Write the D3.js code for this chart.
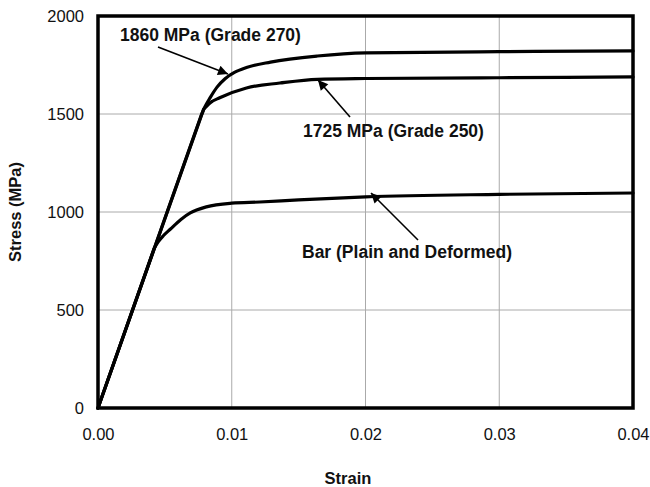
<html>
<head>
<meta charset="UTF-8">
<title>Stress-Strain</title>
<script src="https://d3js.org/d3.v7.min.js"></script>
<style>
html,body{margin:0;padding:0;background:#fff;}
text{font-family:"Liberation Sans",Arial,sans-serif;fill:#111;}
.grid line{stroke:#aaa;stroke-width:1;}
.curve{fill:none;stroke:#000;stroke-width:3.2;stroke-linejoin:round;stroke-linecap:round;}
.tick-label{font-size:16.5px;}
.note{font-size:17.5px;font-weight:bold;}
.title{font-size:16.5px;font-weight:bold;}
</style>
</head>
<body>
<div id="container"></div>
<script>
// data (first point after origin = end of elastic line)
const xTicks = [0, 0.01, 0.02, 0.03, 0.04];
const yTicks = [0, 500, 1000, 1500, 2000];

const strain1860 = [0, 0.0077, 0.008, 0.0084, 0.0089, 0.0095, 0.0102, 0.0111, 0.0129, 0.0164, 0.02, 0.03, 0.04];
const stress1860 = [0, 1490, 1537, 1585, 1637, 1680, 1712, 1737, 1765, 1796, 1812, 1818, 1822];

const strain1725 = [0, 0.0079, 0.0084, 0.0091, 0.0111, 0.0136, 0.0164, 0.02, 0.03, 0.04];
const stress1725 = [0, 1525, 1558, 1583, 1633, 1658, 1677, 1681, 1685, 1689];

const strainBar = [0, 0.0042, 0.0045, 0.0049, 0.0054, 0.0062, 0.0069, 0.0081, 0.01, 0.0121, 0.015, 0.02, 0.03, 0.04];
const stressBar = [0, 815, 848, 880, 912, 962, 995, 1026, 1045, 1051, 1062, 1077, 1090, 1097];

const margin = {top: 16, right: 17, bottom: 79, left: 98};
const W = 650, H = 487;
const width = W - margin.left - margin.right,
      height = H - margin.top - margin.bottom;

const x = d3.scaleLinear().domain([0, 0.04]).range([0, width]);
const y = d3.scaleLinear().domain([0, 2000]).range([height, 0]);

const svg = d3.select("#container").append("svg")
    .attr("width", W).attr("height", H);
const g = svg.append("g")
    .attr("transform", "translate(" + margin.left + "," + margin.top + ")");

// grid
const grid = g.append("g").attr("class", "grid");
grid.selectAll(".gx").data(xTicks.slice(1, -1)).enter().append("line")
    .attr("x1", d => x(d)).attr("x2", d => x(d))
    .attr("y1", 0).attr("y2", height);
grid.selectAll(".gy").data(yTicks.slice(1, -1)).enter().append("line")
    .attr("x1", 0).attr("x2", width)
    .attr("y1", d => y(d)).attr("y2", d => y(d));

const xAxis = g.append("g")
    .attr("transform", "translate(0," + height + ")")
    .call(d3.axisBottom(x).tickValues(xTicks).tickFormat(d3.format(".2f")).tickSize(0).tickPadding(20));
const yAxis = g.append("g")
    .call(d3.axisLeft(y).tickValues(yTicks).tickFormat(d3.format("d")).tickSize(0).tickPadding(14));
[xAxis, yAxis].forEach(a => {
  a.select(".domain").remove();
  a.selectAll("text").attr("class", "tick-label")
    .style("font-family", '"Liberation Sans",Arial,sans-serif').attr("fill", "#111");
});

// curves: straight elastic part, then smooth yield part
const smooth = d3.line().x(d => x(d[0])).y(d => y(d[1])).curve(d3.curveMonotoneX);
[[strain1860, stress1860], [strain1725, stress1725], [strainBar, stressBar]].forEach(s => {
  const pts = d3.zip(s[0], s[1]);
  const p = "M" + x(pts[0][0]) + "," + y(pts[0][1]) + "L" + smooth(pts.slice(1)).slice(1);
  g.append("path").attr("class", "curve").attr("d", p);
});

// frame
g.append("rect").attr("x", 0).attr("y", 0).attr("width", width).attr("height", height)
  .attr("fill", "none").attr("stroke", "#000").attr("stroke-width", 3.5);

// annotations
svg.append("defs").append("marker")
  .attr("id", "arr").attr("viewBox", "0 0 10 10").attr("refX", 10).attr("refY", 5)
  .attr("markerWidth", 19).attr("markerHeight", 10).attr("markerUnits", "userSpaceOnUse")
  .attr("orient", "auto")
  .append("path").attr("d", "M0,0L10,5L0,10Z").attr("fill", "#000");

const notes = [
  {t: "1860 MPa (Grade 270)", tx: 120, ty: 41, a: [158, 47, 228, 74]},
  {t: "1725 MPa (Grade 250)", tx: 303, ty: 137, a: [350, 117, 318, 80]},
  {t: "Bar (Plain and Deformed)", tx: 302, ty: 258, a: [418, 240, 371, 193]}
];
notes.forEach(n => {
  svg.append("text").attr("class", "note").attr("x", n.tx).attr("y", n.ty).text(n.t);
  svg.append("line").attr("x1", n.a[0]).attr("y1", n.a[1]).attr("x2", n.a[2]).attr("y2", n.a[3])
    .attr("stroke", "#000").attr("stroke-width", 1.6).attr("marker-end", "url(#arr)");
});

// axis titles
svg.append("text").attr("class", "title").attr("text-anchor", "middle")
  .attr("x", 348).attr("y", 484).text("Strain");
svg.append("text").attr("class", "title").attr("text-anchor", "middle")
  .attr("transform", "translate(21," + (margin.top + height / 2) + ") rotate(-90)")
  .text("Stress (MPa)");
</script>
</body>
</html>
